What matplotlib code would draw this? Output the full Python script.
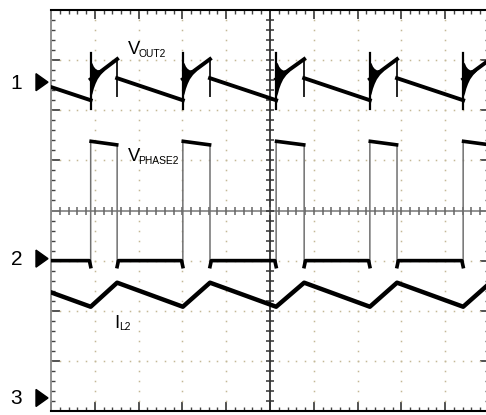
import matplotlib
matplotlib.use("Agg")
import matplotlib.pyplot as plt
import numpy as np
from matplotlib.patches import Polygon
from matplotlib.ticker import MultipleLocator

# switching edges, in horizontal divisions (the first and last ones lie off screen)
rise_edges = [-1.22, 0.906, 3.01, 5.14, 7.28, 9.41]
fall_edges = [-0.61, 1.51, 3.63, 5.78, 7.90, 10.03]

# channel 1, V_OUT2 (vertical divisions counted from the bottom of the screen)
vout_off_start = 6.64
vout_off_end = 6.20
vout_on_start = 6.62
vout_on_end = 7.02
vout_spike_hi = 7.14
vout_spike_lo = 6.02
vout_fall_dip = 6.28
ring_dt = [0.0, 0.03, 0.06, 0.10, 0.15, 0.22, 0.30]
ring_amp = [0.35, 0.30, 0.22, 0.15, 0.09, 0.05, 0.03]

# channel 2, V_PHASE2
phase_low = 3.0
phase_dip = 2.88
phase_high_start = 5.38
phase_high_end = 5.31

# channel 3, I_L2
il_min = 2.08
il_max = 2.56

ch_refs = [6.56, 3.04, 0.26]
ch_names = ["1", "2", "3"]

FONT = "Liberation Sans"
W, H = 486, 415

fig = plt.figure(figsize=(W / 100, H / 100), dpi=100)
ax = fig.add_axes([51 / W, 4 / H, 438 / W, 401 / H])
ax.set_xlim(0, 10)
ax.set_ylim(0, 8)

## dotted graticule
dot = "#c4b896"
for gy in [1, 2, 3, 5, 6, 7]:
    xs = np.arange(0, 10.01, 0.2)
    ax.plot(xs, np.full_like(xs, gy), ls="none", marker="s", ms=1.1, mew=0, color=dot)
for gx in [1, 2, 3, 4, 6, 7, 8, 9]:
    ys = np.arange(0, 8.01, 0.2)
    ax.plot(np.full_like(ys, gx), ys, ls="none", marker="s", ms=1.1, mew=0, color=dot)

## centre cross with its own ticks
ax.axhline(4, color="#808080", lw=1.2, zorder=2)
ax.axvline(5, color="#303030", lw=1.3, zorder=2)
xs = np.arange(0, 10.01, 0.2)
ys = np.arange(0, 8.01, 0.2)
ax.plot(xs, np.full_like(xs, 4), ls="none", marker="|", ms=5.5, mew=1.1, color="#666666", zorder=2)
ax.plot(np.full_like(ys, 5), ys, ls="none", marker="_", ms=5.5, mew=1.1, color="#333333", zorder=2)

## border ticks
ax.xaxis.set_major_locator(MultipleLocator(1))
ax.xaxis.set_minor_locator(MultipleLocator(0.2))
ax.yaxis.set_major_locator(MultipleLocator(1))
ax.yaxis.set_minor_locator(MultipleLocator(0.2))
ax.tick_params(which="both", direction="in", top=True, right=True, bottom=True, left=True,
               labelbottom=False, labelleft=False, color="#444444")
ax.tick_params(which="major", length=6.5, width=1.3)
ax.tick_params(which="minor", length=3.2, width=1.0)
ax.spines["top"].set_color("black")
ax.spines["top"].set_linewidth(1.5)
ax.spines["bottom"].set_color("black")
ax.spines["bottom"].set_linewidth(1.5)
ax.spines["left"].set_color("#888888")
ax.spines["left"].set_linewidth(1.3)
ax.spines["right"].set_color("#888888")

## V_OUT2: sloped parts thick, switching spikes thin
for i, (r, f) in enumerate(zip(rise_edges, fall_edges)):
    nxt = rise_edges[i + 1] if i + 1 < len(rise_edges) else 12
    ax.plot([r, r], [vout_spike_lo, vout_spike_hi], color="black", lw=1.6, zorder=4)
    ax.plot([f, f], [vout_fall_dip, vout_on_end], color="#222222", lw=1.4, zorder=4)
    ax.plot([r, f], [vout_on_start, vout_on_end], color="black", lw=2.8, zorder=4)
    ax.plot([f, nxt], [vout_off_start, vout_off_end], color="black", lw=2.8, zorder=4)
    # ringing after the rising edge
    dt = np.array(ring_dt)
    amp = np.array(ring_amp)
    base = vout_on_start + (vout_on_end - vout_on_start) * dt / (f - r)
    ax.fill_between(r + dt, base - amp, base + amp, color="black", lw=0, zorder=4)

## V_PHASE2
px, py = [], []
for r, f in zip(rise_edges, fall_edges):
    px += [r - 0.03, r, r, f, f, f + 0.03]
    py += [phase_low, phase_dip, phase_high_start, phase_high_end, phase_dip, phase_low]
ax.plot(px, py, color="#707070", lw=1.1, zorder=3)
for i, (r, f) in enumerate(zip(rise_edges, fall_edges)):
    ax.plot([r + 0.01, f - 0.01], [phase_high_start, phase_high_end], color="black", lw=2.6, zorder=4)
    nxt = rise_edges[i + 1] if i + 1 < len(rise_edges) else 12
    ax.plot([f, f + 0.03, nxt - 0.03, nxt], [phase_dip, phase_low, phase_low, phase_dip],
            color="black", lw=2.6, zorder=4)

## I_L2
ix, iy = [], []
for r, f in zip(rise_edges, fall_edges):
    ix += [r, f]
    iy += [il_min, il_max]
ix.append(12)
iy.append(il_min - 0.32 * (12 - fall_edges[-1]))
ax.plot(ix, iy, color="black", lw=3.2, zorder=4)

## channel markers
ytr = ax.get_yaxis_transform()
for name, ref in zip(ch_names, ch_refs):
    tri = Polygon([[-15 / 438, ref + 0.17], [-3 / 438, ref], [-15 / 438, ref - 0.17]],
                  closed=True, color="black", transform=ytr, clip_on=False)
    ax.add_patch(tri)
    ax.text(-34.5 / 438, ref - 0.13, name, transform=ytr, ha="center", va="baseline",
            fontsize=15, family=FONT, color="black")


## trace labels: a main letter with a smaller subscript
def label(x, y, main, sub, ysub, size=13.2, subsize=7.4):
    fig.text(x / W, 1 - y / H, main, fontsize=size, family=FONT, va="baseline", ha="left")
    fig.text(ysub[0] / W, 1 - ysub[1] / H, sub, fontsize=subsize, family=FONT,
             va="baseline", ha="left")


label(127.5, 53.5, "V", "OUT2", (138.5, 57))
label(127.5, 161, "V", "PHASE2", (138.5, 163.8))
label(114.5, 328, "I", "L2", (119.5, 329.5))

fig.savefig("out.png", dpi=100)
